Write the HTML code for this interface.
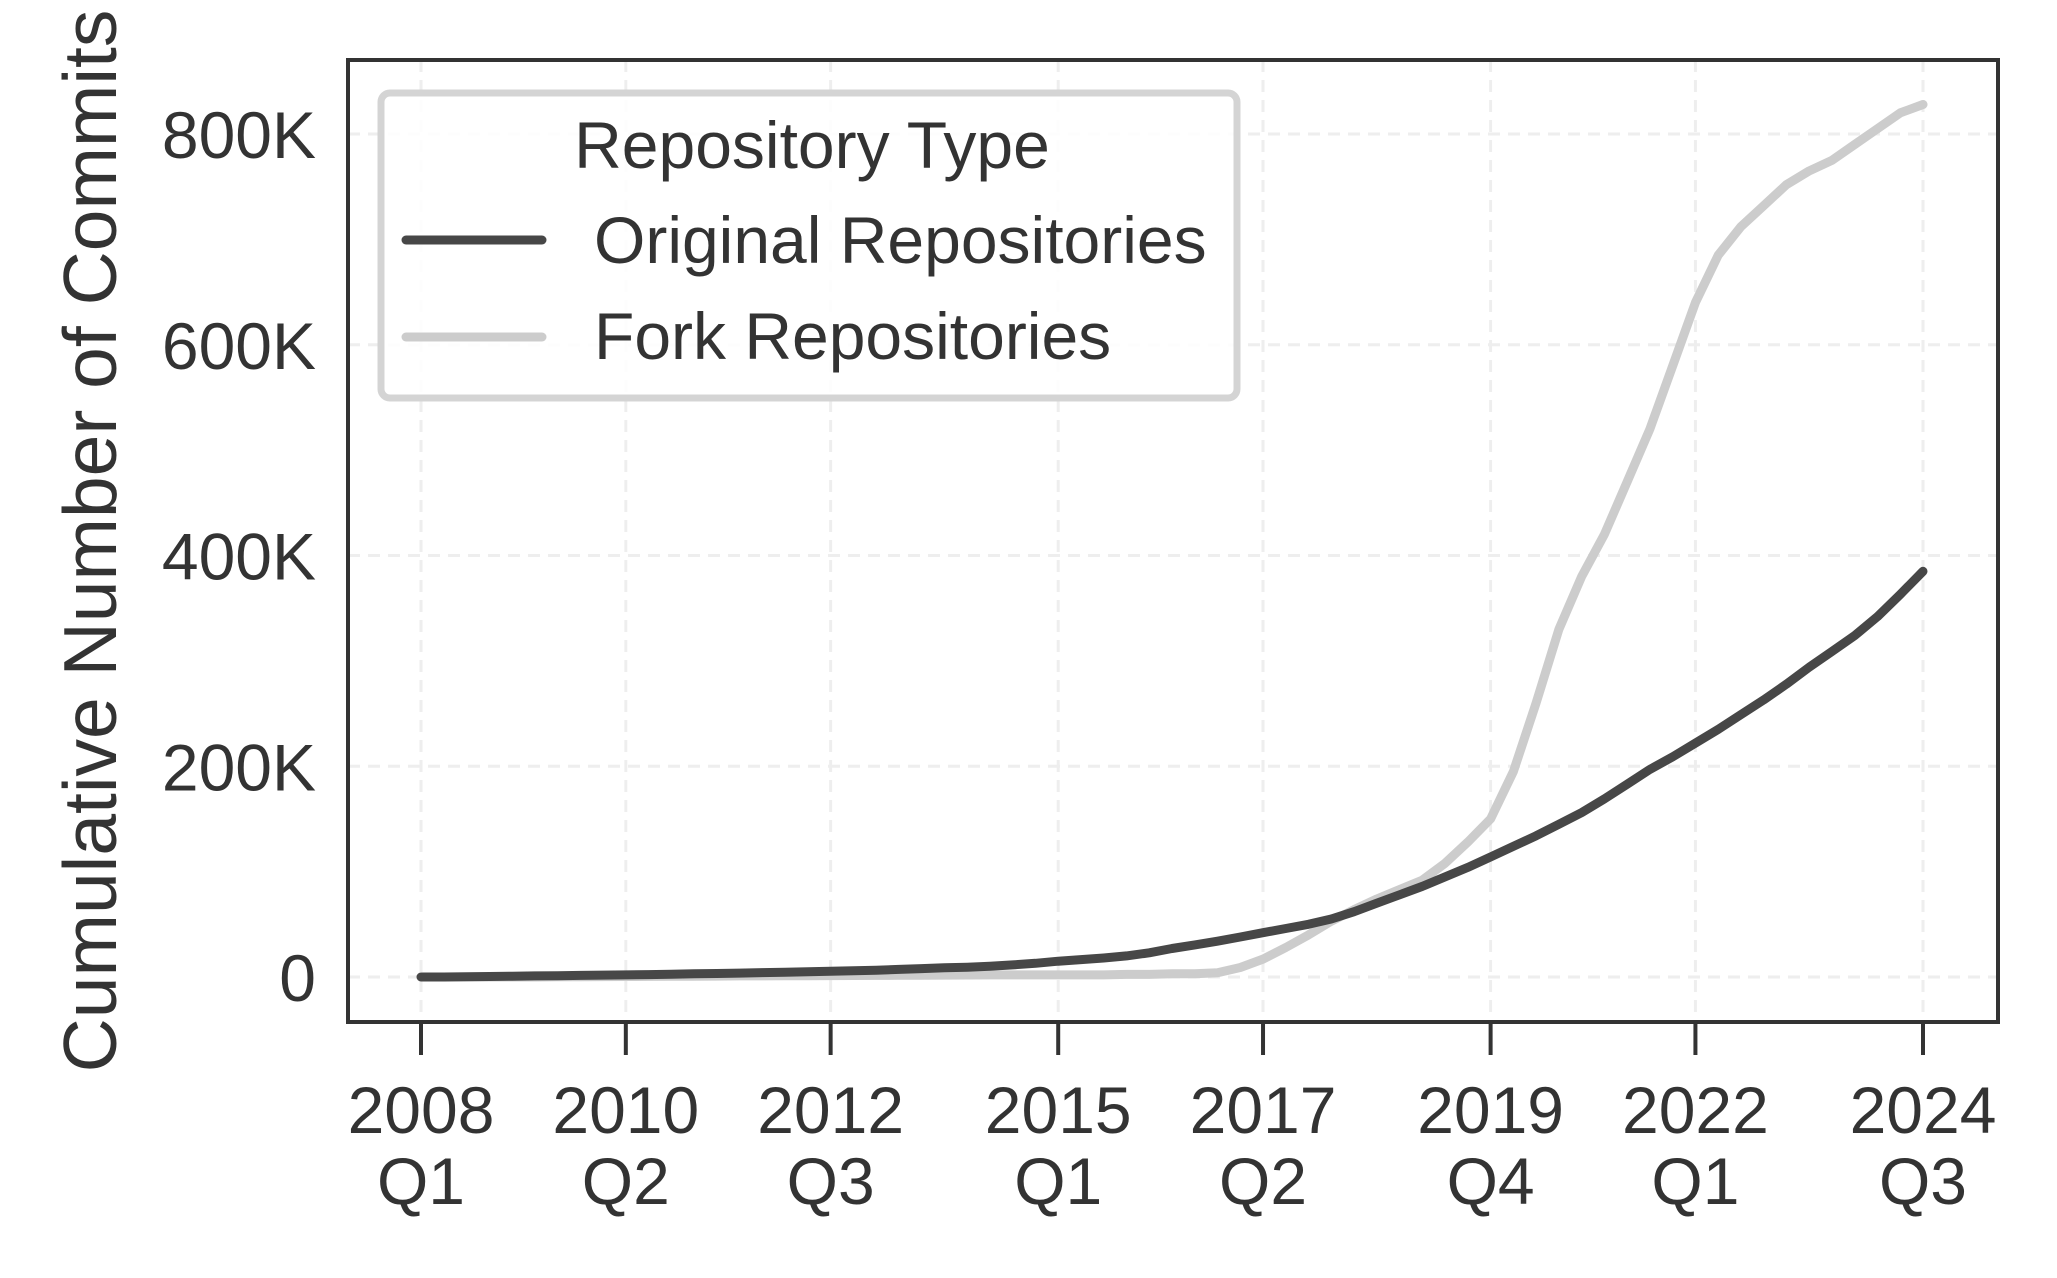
<!DOCTYPE html>
<html><head><meta charset="utf-8"><style>
html,body{margin:0;padding:0;background:#fff;}
svg{display:block;font-family:"Liberation Sans",Arial,sans-serif;}
</style></head><body>
<svg id="chart" width="2057" height="1278" viewBox="0 0 2057 1278" xmlns="http://www.w3.org/2000/svg">
<g id="grid"></g>
<g id="series"></g>
<rect x="348" y="60" width="1650" height="962" fill="none" stroke="#333" stroke-width="4"/>
<g id="axes"></g>
<text x="0" y="0" transform="translate(116,541) rotate(-90)" text-anchor="middle" font-size="75" fill="#333">Cumulative Number of Commits</text>
<g>
<rect x="381" y="93" width="856" height="305" rx="9" fill="#fff" fill-opacity="0.85" stroke="#d4d4d4" stroke-width="7"/>
<text x="812" y="168" text-anchor="middle" font-size="66" fill="#333">Repository Type</text>
<line x1="406" y1="240" x2="542" y2="240" stroke="#474747" stroke-width="9" stroke-linecap="round"/>
<text x="594" y="263" font-size="66" fill="#333">Original Repositories</text>
<line x1="406" y1="337" x2="542" y2="337" stroke="#cccccc" stroke-width="9" stroke-linecap="round"/>
<text x="594" y="359" font-size="66" fill="#333">Fork Repositories</text>
</g>
</svg>
<script>
const originalK=[0,0,0.3,0.5,0.8,1,1.2,1.5,1.8,2,2.3,2.6,3,3.3,3.7,4.2,4.6,5,5.5,6,6.5,7.2,8,8.7,9.3,10.2,11.5,13,15,16.5,18,20,23,27,30.5,34,38,42,46,50,55,62,70,78,86,95,104,114,124,134,145,156,169,183,197,209,222,235,249,263,278,294,309,324,342,363,385];
const forkK=[0,0,0,0,0,0,0.2,0.3,0.4,0.5,0.6,0.7,0.8,0.9,1,1,1.1,1.2,1.3,1.4,1.5,1.6,1.7,1.8,1.9,2,2,2,2,2,2,2.5,2.5,3,3,4,9,17,28,40,53,64,74,83,92,108,128,150,195,260,330,380,420,470,520,580,640,685,712,732,752,765,775,790,805,820,828];
const yTicks=[0,200,400,600,800];
const yTickLabels=["0","200K","400K","600K","800K"];
const xTickIdx=[0,9,18,28,37,47,56,66];
const xTickYears=["2008","2010","2012","2015","2017","2019","2022","2024"];
const xTickQuarters=["Q1","Q2","Q3","Q1","Q2","Q4","Q1","Q3"];

const NS="http://www.w3.org/2000/svg";
const x=i=>421+i*(1923-421)/66;
const y=v=>977-v*(977-134)/800;
function mk(tag,attrs,parent){const e=document.createElementNS(NS,tag);for(const k in attrs)e.setAttribute(k,attrs[k]);parent.appendChild(e);return e;}
const grid=document.getElementById('grid'),axes=document.getElementById('axes'),series=document.getElementById('series');
yTicks.forEach((v,i)=>{
  const g=mk('line',{x1:348,x2:1998,y1:y(v),y2:y(v),stroke:'#eee','stroke-width':3,'stroke-dasharray':'12,8'},grid);
  
  
  const t=mk('text',{x:316,y:y(v)+24,'text-anchor':'end','font-size':66,fill:'#333'},axes);
  t.textContent=yTickLabels[i];
  
  
});
xTickIdx.forEach((q,i)=>{
  const g=mk('line',{x1:x(q),x2:x(q),y1:60,y2:1022,stroke:'#eee','stroke-width':3,'stroke-dasharray':'12,8'},grid);
  
  
  const tk=mk('line',{x1:x(q),x2:x(q),y1:1022,y2:1055,stroke:'#333','stroke-width':4},axes);
  
  
  const t=mk('text',{x:x(q),y:1133,'text-anchor':'middle','font-size':66,fill:'#333'},axes);
  t.textContent=xTickYears[i];
  
  
  const t2=mk('text',{x:x(q),y:1204,'text-anchor':'middle','font-size':66,fill:'#333'},axes);
  t2.textContent=xTickQuarters[i];
  
  
});
function line(data){return data.map((v,i)=>(i?'L':'M')+x(i).toFixed(1)+','+y(v).toFixed(1)).join(' ');}
const pf=mk('path',{d:line(forkK),fill:'none',stroke:'#cccccc','stroke-width':9,'stroke-linejoin':'round','stroke-linecap':'round'},series);


const po=mk('path',{d:line(originalK),fill:'none',stroke:'#474747','stroke-width':9,'stroke-linejoin':'round','stroke-linecap':'round'},series);


</script>
</body></html>
